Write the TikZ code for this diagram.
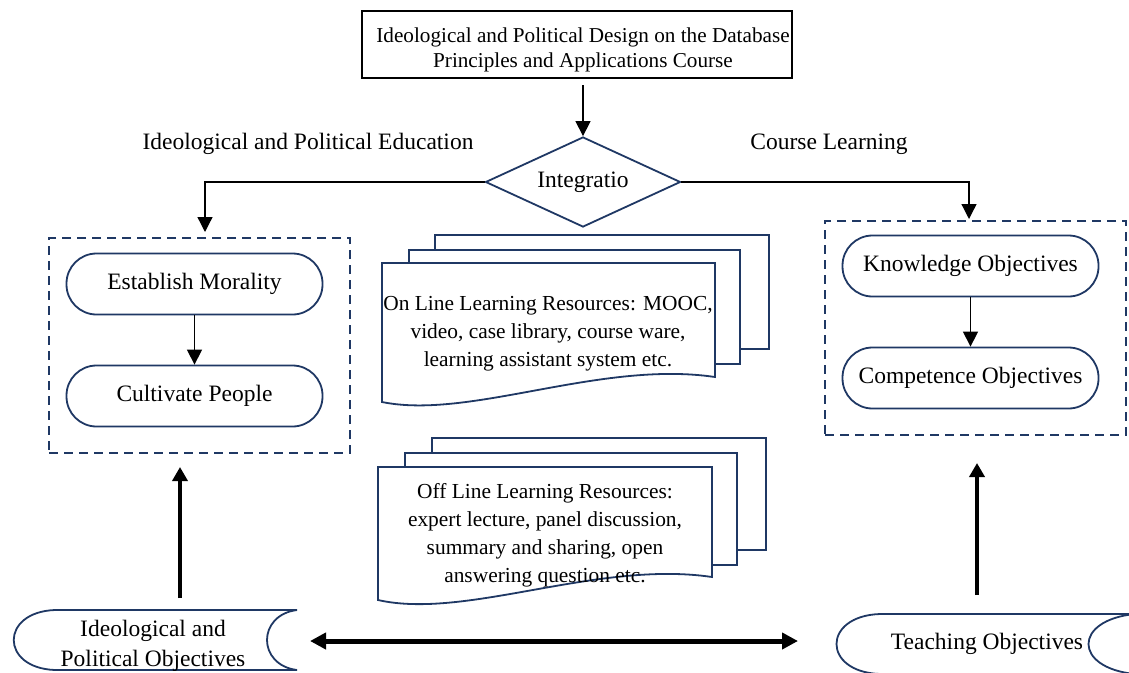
\documentclass[tikz,border=0pt]{standalone}
\usepackage{fontspec}
\setmainfont{Liberation Serif}
\usetikzlibrary{arrows.meta,shapes.geometric}
\definecolor{navy}{HTML}{1F3864}
\begin{document}
\begin{tikzpicture}[x=1pt,y=-1pt,
  thinarrow/.style={draw=black,line width=1.3pt,-{Triangle[length=15pt,width=15pt]}},
  thickarrow/.style={draw=black,line width=4pt,-{Triangle[length=14pt,width=15pt]}},
  bigfont/.style={font=\fontsize{23.5}{29}\selectfont},
  resfont/.style={font=\fontsize{21.4}{28}\selectfont},
  stadium/.style={draw=navy,line width=1.8pt,rounded corners=30pt,minimum width=256pt,minimum height=61pt,inner sep=0pt,bigfont},
  dashbox/.style={draw=navy,line width=1.8pt,dash pattern=on 9pt off 6pt,minimum width=301pt,inner sep=0pt},
  docpage/.style={draw=navy,line width=1.8pt,fill=white},
  label/.style={bigfont,inner sep=0pt}
]
\useasboundingbox (0,0) rectangle (1129,672);
\clip (0,0) rectangle (1129,672);
\fill[white] (0,0) rectangle (1129,672);

% title
\node[draw=black,line width=2.5pt,minimum width=430pt,minimum height=67pt,inner sep=0pt] (title) at (577,44.5) {};
\node[align=center,inner sep=0pt,font=\fontsize{21.2}{25}\selectfont] (titletext) at (583,50)
  {Ideological and Political Design on the Database\\Principles and Applications Course};

% side labels
\node[label] (lblL) at (308,144) {Ideological and Political Education};
\node[label] (lblR) at (829,144) {Course Learning};

% diamond
\node[diamond,aspect=2.17,draw=navy,line width=1.8pt,minimum width=195pt,minimum height=90pt,inner sep=0pt,bigfont] (integ) at (583,182) {Integratio};

% dashed boxes
\node[dashbox,minimum height=215pt] (lbox) at (199.5,345.5) {};
\node[dashbox,minimum height=214pt] (rbox) at (975.5,328) {};

% stadiums
\node[stadium] (moral) at (194.5,284) {Establish Morality};
\node[stadium] (cult) at (194.5,396) {Cultivate People};
\node[stadium] (know) at (970.5,266) {Knowledge Objectives};
\node[stadium] (comp) at (970.5,378) {Competence Objectives};

% online multi-document
\draw[docpage] (435,235) rectangle (769,349);
\draw[docpage] (409,250) rectangle (740,364);
\draw[docpage] (382,263) -- (715,263) -- (715,377) .. controls (600,360) and (470,420) .. (382,402) -- cycle;
\node[resfont,align=center,inner sep=0pt] (online) at (548,334)
  {On Line Learning Resources: MOOC,\\video, case library, course ware,\\learning assistant system etc.};

% offline multi-document
\draw[docpage] (432,438) rectangle (766,550);
\draw[docpage] (405,453) rectangle (737,565);
\draw[docpage] (378,467) -- (712,467) -- (712,577) .. controls (597,560) and (466,620) .. (378,600) -- cycle;
\node[resfont,align=center,inner sep=0pt] (offline) at (545,535)
  {Off Line Learning Resources:\\expert lecture, panel discussion,\\summary and sharing, open\\answering question etc.};

% stored data shapes
\draw[navy,line width=1.8pt] (55,610) -- (297,610) .. controls (257,615) and (257,665) .. (297,670) -- (55,670) .. controls (0,668) and (0,612) .. (55,610) -- cycle;
\node[align=center,inner sep=0pt,font=\fontsize{23.5}{30}\selectfont] (ipo) at (153,646) {Ideological and\\Political Objectives};
\draw[navy,line width=1.8pt] (880,614) -- (1135,614) .. controls (1073,620) and (1073,668) .. (1135,674) -- (880,674) .. controls (822,672) and (822,616) .. (880,614) -- cycle;
\node[bigfont,inner sep=0pt] (teach) at (987,644) {Teaching Objectives};

% coordinates for connector ends
\coordinate (ltip) at (205,232);
\coordinate (rtip) at (969,219);
\coordinate (lup0) at (180,598);
\coordinate (lup1) at (180,467);
\coordinate (rup0) at (977,595);
\coordinate (rup1) at (977,463);
\coordinate (hl) at (310,641);
\coordinate (hr) at (798,641);

% connectors
\draw[thinarrow] (title.south) ++(6,6) -- (integ.north);
\draw[thinarrow] (integ.west) -| (ltip);
\draw[thinarrow] (integ.east) -| (rtip);
\draw[thinarrow] (moral.south) -- (cult.north);
\draw[thinarrow] (know.south) -- (comp.north);
\draw[thickarrow] (lup0) -- (lup1);
\draw[thickarrow] (rup0) -- (rup1);
\draw[draw=black,line width=5pt,{Triangle[length=16pt,width=16pt]}-{Triangle[length=16pt,width=16pt]}] (hl) -- (hr);
\end{tikzpicture}
\end{document}
